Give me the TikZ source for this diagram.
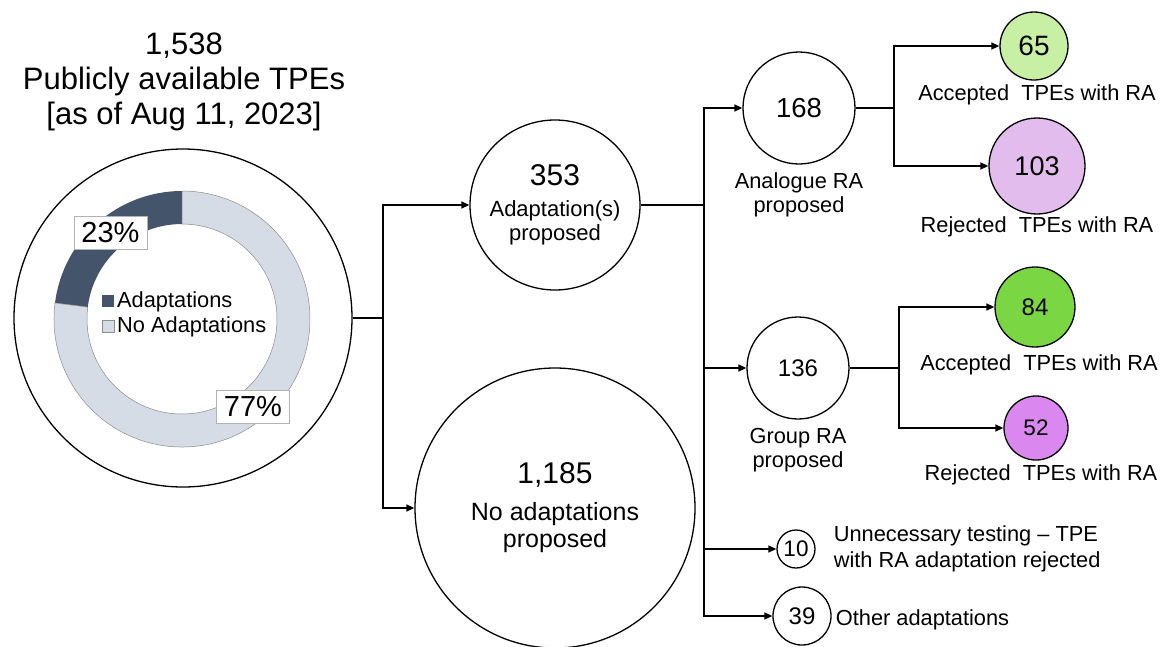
\documentclass[tikz,border=0pt]{standalone}
\usepackage{fontspec}
\setmainfont{Liberation Sans}
\usetikzlibrary{arrows.meta,calc,positioning}

\definecolor{adaptdark}{RGB}{68,84,106}
\definecolor{adaptlight}{RGB}{214,220,229}
\definecolor{acceptpale}{RGB}{200,240,165}
\definecolor{rejectpale}{RGB}{226,188,236}
\definecolor{acceptgreen}{RGB}{122,214,66}
\definecolor{rejectpurple}{RGB}{218,136,240}

\tikzset{
  count/.style={circle,draw,line width=1.3pt,inner sep=0pt,minimum size=#1},
  numfont/.style={font=\fontsize{#1}{#1}\selectfont},
  flow/.style={line width=1.4pt},
  flowarrow/.style={flow,-{Triangle[length=8pt,width=7pt]}},
  lbl/.style={font=\fontsize{21.8}{24}\selectfont,align=center,inner sep=0pt},
  sidelbl/.style={font=\fontsize{21.8}{26}\selectfont,align=left,inner sep=0pt},
  pctbox/.style={draw=black!30,fill=white,line width=0.6pt,minimum width=73pt,minimum height=33pt,inner sep=0pt,font=\fontsize{29}{29}\selectfont},
  keybox/.style={minimum size=12pt,inner sep=0pt,line width=0.5pt},
  keytext/.style={font=\fontsize{21.8}{22}\selectfont,inner sep=0pt},
}

\begin{document}
\begin{tikzpicture}[x=1pt,y=-1pt]
\useasboundingbox (0,0) rectangle (1162,646);

% total and donut chart
\node[font=\fontsize{31}{35}\selectfont,align=center,inner sep=0pt] (head) at (184,82)
  {1,538\\Publicly available TPEs\\{[}as of Aug 11, 2023{]}};
\node[count=338pt] (total) at (183,318) {};
\coordinate (pc) at (182,319);
\fill[adaptdark] ($(pc)+(90:128pt)$) arc[start angle=90,end angle=172.8,radius=128pt]
  -- ($(pc)+(172.8:95pt)$) arc[start angle=172.8,end angle=90,radius=95pt] -- cycle;
\filldraw[fill=adaptlight,draw=black!45,line width=0.5pt] ($(pc)+(172.8:128pt)$) arc[start angle=172.8,end angle=450,radius=128pt]
  -- ($(pc)+(90:95pt)$) arc[start angle=450,end angle=172.8,radius=95pt] -- cycle;
\node[pctbox] (pa) at (110.5,233) {23\%};
\node[pctbox] (pn) at (253,407) {77\%};
\node[keybox,fill=adaptdark] (ka) at (108,301) {};
\node[keybox,fill=adaptlight,draw=black!45] (kn) at (108,326) {};
\node[keytext,anchor=base west] (ta) at (117,307) {Adaptations};
\node[keytext,anchor=base west] (tn) at (117,332) {No Adaptations};

% first split
\node[count=170pt,align=center,font=\fontsize{22}{24}\selectfont] (n353) at (555,205)
  {{\fontsize{30}{30}\selectfont 353}\\[7pt]Adaptation(s)\\proposed};
\node[count=280pt,align=center,font=\fontsize{25}{27}\selectfont] (n1185) at (555,508)
  {{\fontsize{30}{30}\selectfont 1,185}\\[10pt]No adaptations\\proposed};
\coordinate (j1) at (383,318);
\draw[flow] (total) -- (j1);
\draw[flowarrow] (j1) |- (n353);
\draw[flowarrow] (j1) |- (n1185);

% kinds of adaptation
\node[count=112pt,numfont=27.5] (n168) at (799,108) {168};
\node[count=102pt,numfont=24] (n136) at (798,368) {136};
\node[count=38pt,numfont=22.5] (n10) at (796,549) {10};
\node[count=58pt,numfont=24] (n39) at (802,616) {39};
\node[lbl,below=8pt of n168] (l168) {Analogue RA\\proposed};
\node[lbl,below=8pt of n136] (l136) {Group RA\\proposed};
\node[sidelbl,right=18pt of n10] (l10) {Unnecessary testing -- TPE\\with RA adaptation rejected};
\node[sidelbl,right=4pt of n39,yshift=-4pt] (l39) {Other adaptations};
\coordinate (j2) at (704,205);
\draw[flow] (n353) -- (j2);
\draw[flowarrow] (j2) |- (n168);
\draw[flowarrow] (j2) |- (n136);
\draw[flowarrow] (j2) |- (n10);
\draw[flowarrow] (j2) |- (n39);

% outcomes
\node[count=68pt,numfont=28,fill=acceptpale] (n65) at (1034,46) {65};
\node[count=96pt,numfont=27,fill=rejectpale] (n103) at (1037,166) {103};
\node[count=80pt,numfont=24,fill=acceptgreen] (n84) at (1035,307) {84};
\node[count=64pt,numfont=22.5,fill=rejectpurple] (n52) at (1036,428) {52};
\node[lbl,below=4pt of n65,xshift=3pt] (l65) {Accepted\ \ TPEs with RA};
\node[lbl,below=2pt of n103] (l103) {Rejected\ \ TPEs with RA};
\node[lbl,below=7pt of n84,xshift=4pt] (l84) {Accepted\ \ TPEs with RA};
\node[lbl,below=4pt of n52,xshift=5pt] (l52) {Rejected\ \ TPEs with RA};
\coordinate (j3) at (894,108);
\coordinate (j4) at (899,368);
\draw[flow] (n168) -- (j3);
\draw[flowarrow] (j3) |- (n65);
\draw[flowarrow] (j3) |- (n103);
\draw[flow] (n136) -- (j4);
\draw[flowarrow] (j4) |- (n84);
\draw[flowarrow] (j4) |- (n52);
\end{tikzpicture}
\end{document}
